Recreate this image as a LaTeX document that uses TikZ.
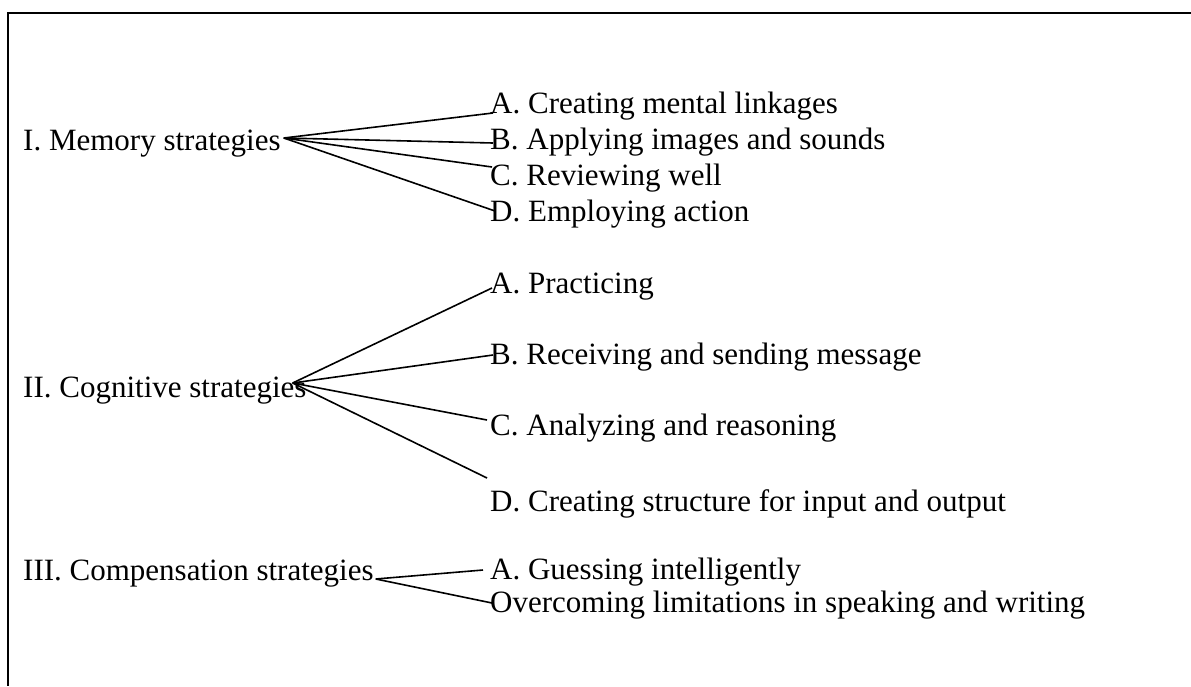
\documentclass[tikz,border=0pt]{standalone}
\usepackage{fontspec}
\setmainfont{Liberation Serif}
\begin{document}
\begin{tikzpicture}[x=1pt,y=-1pt,
  lbl/.style={anchor=base west,inner sep=0pt,text height=24pt,text depth=0pt,
              font=\fontsize{31}{36}\selectfont},
  link/.style={line width=1.6pt}]
\useasboundingbox (0,0) rectangle (1191,686);
% open frame: top rule and left rule
\draw[line width=2pt] (7,13) -- (1191,13);
\draw[line width=1.6pt] (8,13) -- (8,686);

% I. Memory strategies
\node[lbl] (mem) at (23,150) {I. Memory strategies};
\node[lbl] (ma) at (490,113) {A. Creating mental linkages};
\node[lbl] (mb) at (490,149) {B. Applying images and sounds};
\node[lbl] (mc) at (490,185) {C. Reviewing well};
\node[lbl] (md) at (490,221) {D. Employing action};
\draw[link] ([xshift=3pt]mem.east) -- ([xshift=3pt,yshift=-12pt]ma.west);
\draw[link] ([xshift=3pt]mem.east) -- ([xshift=3pt,yshift=-6pt]mb.west);
\draw[link] ([xshift=3pt]mem.east) -- ([xshift=2pt,yshift=6pt]mc.west);
\draw[link] ([xshift=3pt]mem.east) -- ([xshift=5pt,yshift=-2pt]md.west);

% II. Cognitive strategies
\node[lbl] (cog) at (23,397) {II. Cognitive strategies};
\node[lbl] (ca) at (490,293) {A. Practicing};
\node[lbl] (cb) at (490,364) {B. Receiving and sending message};
\node[lbl] (cc) at (490,435) {C. Analyzing and reasoning};
\node[lbl] (cd) at (490,511) {D. Creating structure for input and output};
\draw[link] ([xshift=-14pt,yshift=2pt]cog.east) -- ([xshift=2pt,yshift=-7pt]ca.west);
\draw[link] ([xshift=-14pt,yshift=2pt]cog.east) -- ([xshift=3pt,yshift=-3pt]cb.west);
\draw[link] ([xshift=-14pt,yshift=2pt]cog.east) -- ([xshift=-3pt,yshift=3pt]cc.west);
\draw[link] ([xshift=-14pt,yshift=2pt]cog.east) -- ([xshift=-3pt,yshift=21pt]cd.west);

% III. Compensation strategies
\node[lbl] (comp) at (23,580) {III. Compensation strategies};
\node[lbl] (pa) at (490,579) {A. Guessing intelligently};
\node[lbl] (pb) at (490,612) {Overcoming limitations in speaking and writing};
\draw[link] ([xshift=2pt,yshift=-11pt]comp.east) -- ([xshift=-7pt,yshift=-3pt]pa.west);
\draw[link] ([xshift=2pt,yshift=-11pt]comp.east) -- ([xshift=2pt,yshift=-3pt]pb.west);
\end{tikzpicture}
\end{document}
